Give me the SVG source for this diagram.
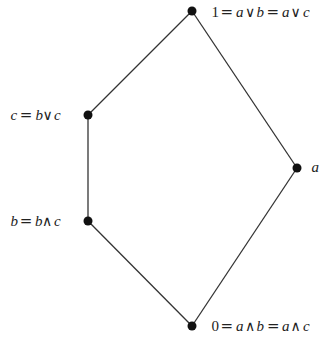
<svg xmlns="http://www.w3.org/2000/svg" width="324" height="340" viewBox="0 0 324 340">
<style>
.e{stroke:#333;stroke-width:1.3;fill:none}
.n{fill:#111}
text{font-family:"Liberation Serif","DejaVu Serif",serif;font-size:15px;fill:#222}
.i{font-style:italic}
.o{font-family:"DejaVu Serif",serif;font-size:15px}
.v{font-family:"DejaVu Serif",serif;font-size:14px}
</style>
<rect width="324" height="340" fill="#fff"/>
<g id="connectors">
<line class="e" x1="192" y1="11" x2="88" y2="115"/>
<line class="e" x1="88" y1="115" x2="88" y2="221"/>
<line class="e" x1="88" y1="221" x2="192" y2="326"/>
<line class="e" x1="192" y1="11" x2="297" y2="168"/>
<line class="e" x1="297" y1="168" x2="192" y2="326"/>
</g>
<g id="top"><circle class="n" cx="192" cy="11" r="4.5"/><text y="17"><tspan x="211.5">1</tspan><tspan class="o" x="220.5">=</tspan><tspan class="i" x="236">a</tspan><tspan class="v" x="245">∨</tspan><tspan class="i" x="256.5">b</tspan><tspan class="o" x="266.5">=</tspan><tspan class="i" x="282">a</tspan><tspan class="v" x="290.5">∨</tspan><tspan class="i" x="303">c</tspan></text></g>
<g id="c"><circle class="n" cx="88" cy="115" r="4.5"/><text y="120"><tspan class="i" x="10.5">c</tspan><tspan class="o" x="19.7">=</tspan><tspan class="i" x="35.5">b</tspan><tspan class="v" x="42.5">∨</tspan><tspan class="i" x="54">c</tspan></text></g>
<g id="b"><circle class="n" cx="88" cy="221" r="4.5"/><text y="226"><tspan class="i" x="10.5">b</tspan><tspan class="o" x="19.7">=</tspan><tspan class="i" x="35">b</tspan><tspan class="v" x="42">∧</tspan><tspan class="i" x="54">c</tspan></text></g>
<g id="a"><circle class="n" cx="297" cy="168" r="4.5"/><text class="i" x="311.5" y="172">a</text></g>
<g id="bottom"><circle class="n" cx="192" cy="326" r="4.5"/><text y="331"><tspan x="211.5">0</tspan><tspan class="o" x="220.5">=</tspan><tspan class="i" x="236">a</tspan><tspan class="v" x="245">∧</tspan><tspan class="i" x="256.5">b</tspan><tspan class="o" x="267">=</tspan><tspan class="i" x="282">a</tspan><tspan class="v" x="290.5">∧</tspan><tspan class="i" x="303">c</tspan></text></g>
</svg>
